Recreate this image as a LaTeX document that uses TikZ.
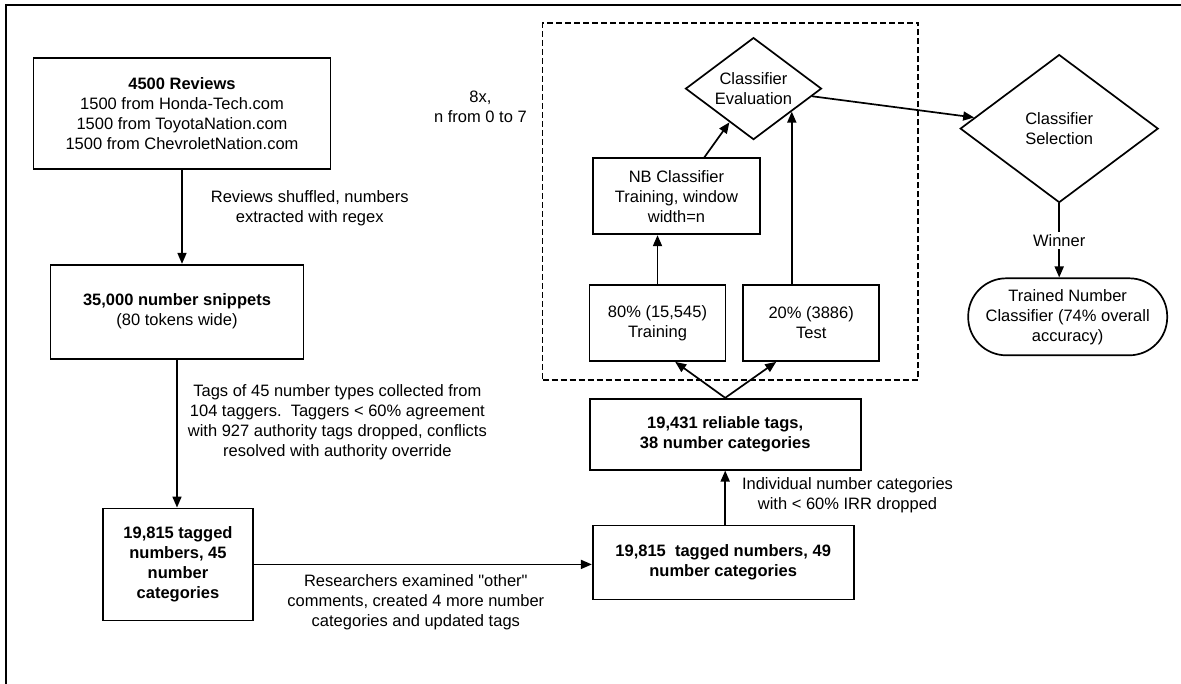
\documentclass[tikz,border=0pt]{standalone}
\usepackage{fontspec}
\setmainfont{Liberation Sans}[Ligatures=TeXOff]
\usetikzlibrary{arrows.meta, shapes.geometric, positioning, fit}

\begin{document}
\begin{tikzpicture}[
      x=1pt, y=1pt,
      every node/.style = {font=\fontsize{16.5}{20}\selectfont},
      box/.style    = {draw, line width=1.7pt, align=center, inner sep=0pt},
      keybox/.style = {box, font=\fontsize{16.5}{20}\selectfont\bfseries},
      choice/.style = {draw, diamond, line width=1.7pt, align=center,
                       inner sep=0pt, shape aspect=1.4},
      final/.style  = {draw, line width=1.7pt, align=center,
                       rounded corners=38pt, inner sep=0pt},
      note/.style   = {align=center, inner sep=0pt},
      arr/.style    = {-{Triangle[length=11pt, width=9pt]}, line width=1.7pt},
      dashframe/.style = {draw, dash pattern=on 6pt off 3pt, line width=1.5pt,
                       inner sep=0pt},
    ]

    \useasboundingbox (0,0) rectangle (1181,-683);
    \draw[line width=2pt] (5.5,-700) |- (1200,-5);

    % left column
    \node[box, minimum width=297pt, minimum height=111pt] (reviews) at (182,-113.5)
      {\textbf{4500 Reviews}\\1500 from Honda-Tech.com\\1500 from ToyotaNation.com\\1500 from ChevroletNation.com};
    \node[box, minimum width=253pt, minimum height=94pt,
          below=94pt of reviews, xshift=-5pt] (snippets)
      {\textbf{35,000 number snippets}\\(80 tokens wide)};
    \node[keybox, minimum width=150pt, minimum height=112pt,
          below=148pt of snippets, xshift=1pt] (tagged)
      {19,815 tagged\\numbers, 45\\number\\categories};

    % middle column
    \node[keybox, minimum width=261pt, minimum height=74pt,
          right=338pt of tagged, yshift=2pt] (merged)
      {19,815\ \ tagged numbers, 49\\number categories};
    \node[keybox, minimum width=271pt, minimum height=71pt,
          above=54pt of merged, xshift=2pt] (reliable)
      {19,431 reliable tags,\\38 number categories};
    \node[box, minimum width=136pt, minimum height=76pt,
          above=36pt of reliable, xshift=-67.7pt] (train)
      {80\% (15,545)\\Training};
    \node[box, minimum width=136pt, minimum height=76pt, right=16pt of train] (test)
      {20\% (3886)\\Test};
    \node[box, minimum width=167pt, minimum height=76pt,
          above=49pt of train, xshift=19pt] (nb)
      {NB Classifier\\Training, window\\width=n};
    \node[choice, minimum width=136pt, minimum height=102pt,
          above=17pt of nb, xshift=77pt] (eval)
      {Classifier\\Evaluation};

    % cross-validation frame
    \node[dashframe, fit={([xshift=-46pt, yshift=-18pt]train.south west)
                          ([xshift=38pt, yshift=14pt]test.east |- eval.north)}] (cv) {};
    \node[note, left=15pt of cv.west, yshift=94pt] (times) {8x,\\n from 0 to 7};

    % right column
    \node[choice, minimum width=198pt, minimum height=148pt,
          right=137pt of eval, yshift=-40pt] (select)
      {Classifier\\Selection};
    \node[final, minimum width=199pt, minimum height=77pt,
          below=74pt of select, xshift=8.5pt] (trained)
      {Trained Number\\Classifier (74\% overall\\accuracy)};

    \draw[arr] (reviews.south) -- (reviews.south |- snippets.north)
      node[note, midway, right=28pt, yshift=9pt]
      {Reviews shuffled, numbers\\extracted with regex};
    \draw[arr] (snippets.south) -- (snippets.south |- tagged.north)
      node[note, midway, right=10pt, yshift=11pt]
      {Tags of 45 number types collected from\\104 taggers.\ \ Taggers < 60\% agreement\\with 927 authority tags dropped, conflicts\\resolved with authority override};
    \draw[arr] (tagged.east) -- (tagged.east -| merged.west)
      node[note, midway, yshift=-38pt, xshift=-7pt]
      {Researchers examined "other"\\comments, created 4 more number\\categories and updated tags};
    \draw[arr] (reliable.south |- merged.north) -- (reliable.south)
      node[note, midway, right=16pt, yshift=2pt]
      {Individual number categories\\with < 60\% IRR dropped};
    \draw[arr] (reliable.north) -- ([xshift=-50pt]reliable.north |- train.south);
    \draw[arr] (reliable.north) -- ([xshift=51pt]reliable.north |- train.south);
    \draw[arr] (train.north) -- (train.north |- nb.south);
    \draw[arr] (nb) -- (eval);
    \draw[arr] (test.north -| eval.-31) -- (eval.-31);
    \draw[arr] (eval) -- (select);
    \draw[arr] (select.south) -- (select.south |- trained.north)
      node[midway, fill=white, inner sep=2pt] {Winner};

  \end{tikzpicture}
\end{document}
